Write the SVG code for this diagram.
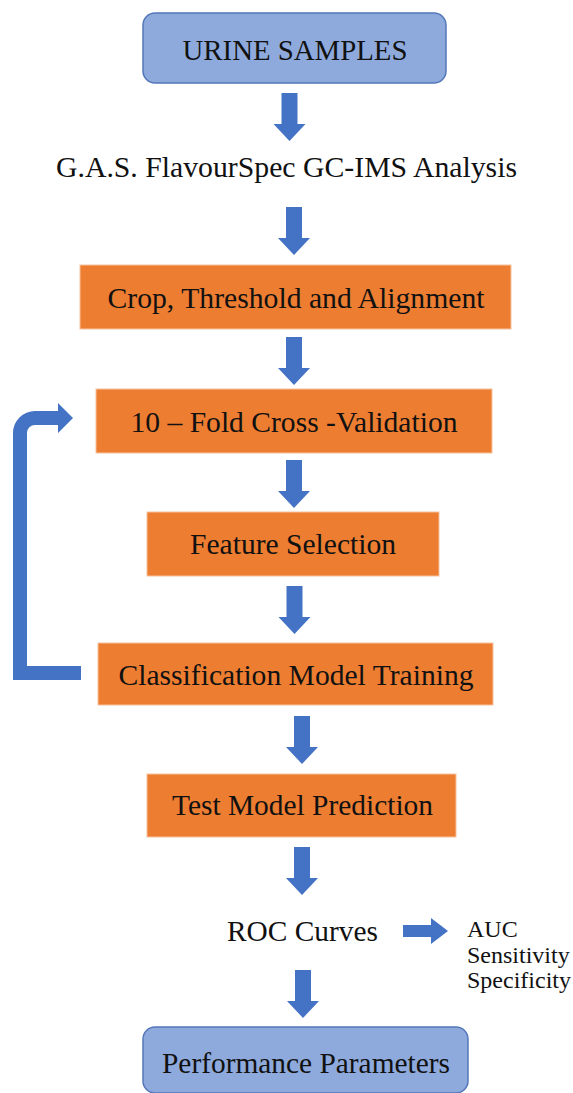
<svg xmlns="http://www.w3.org/2000/svg" xmlns:xlink="http://www.w3.org/1999/xlink" width="573" height="1093" viewBox="0 0 573 1093">
  <style>
    .term { fill: #8eaadc; stroke: #5477b8; stroke-width: 1.5; }
    .step { fill: #ed7d31; stroke: #f6c3a0; stroke-width: 1; }
    text { font-family: 'Liberation Serif', 'DejaVu Serif', 'Times New Roman', serif; fill: #111; }
    .lbl { font-size: 29px; text-anchor: middle; }
    .side { font-size: 24px; }
    .flow { fill: #4472c4; }
  </style>
  <defs>
    <!-- block down-arrow, centred on x=0, top at y=0 -->
    <path id="down" d="M-8,0 H8 V31 H16 L0,48 L-16,31 H-8 Z"/>
  </defs>

  <rect width="573" height="1093" fill="#ffffff"/>

  <g id="connectors" class="flow">
    <use xlink:href="#down" transform="translate(289.5,93)"/>
    <use xlink:href="#down" transform="translate(294,207)"/>
    <use xlink:href="#down" transform="translate(294,337)"/>
    <use xlink:href="#down" transform="translate(294,460)"/>
    <use xlink:href="#down" transform="translate(294.5,586)"/>
    <use xlink:href="#down" transform="translate(302,716)"/>
    <use xlink:href="#down" transform="translate(302,847)"/>
    <use xlink:href="#down" transform="translate(303,970)"/>
    <!-- ROC -> metrics -->
    <path d="M403,925 H431 V918 L448,931 L431,944 V937 H403 Z"/>
    <!-- loop back from training to cross-validation -->
    <path d="M13,680 H81 V666 H27 V433 A8,8 0 0 1 35,425 H58 V433 L73,418 L58,403 V411 H35 A22,22 0 0 0 13,433 Z"/>
  </g>

  <g id="urine-samples">
    <rect class="term" x="143" y="13" width="303" height="70" rx="12"/>
    <text class="lbl" x="295" y="60" textLength="225" lengthAdjust="spacingAndGlyphs">URINE SAMPLES</text>
  </g>

  <g id="gc-ims-analysis">
    <text class="lbl" x="286.5" y="177" textLength="461" lengthAdjust="spacingAndGlyphs">G.A.S. FlavourSpec GC-IMS Analysis</text>
  </g>

  <g id="crop-threshold">
    <rect class="step" x="80" y="265" width="431" height="64"/>
    <text class="lbl" x="296" y="308" textLength="377" lengthAdjust="spacingAndGlyphs">Crop, Threshold and Alignment</text>
  </g>

  <g id="cross-validation">
    <rect class="step" x="96" y="389" width="396" height="64"/>
    <text class="lbl" x="294" y="432" textLength="327" lengthAdjust="spacingAndGlyphs">10 – Fold Cross -Validation</text>
  </g>

  <g id="feature-selection">
    <rect class="step" x="147" y="512" width="292" height="64"/>
    <text class="lbl" x="293" y="554" textLength="206" lengthAdjust="spacingAndGlyphs">Feature Selection</text>
  </g>

  <g id="model-training">
    <rect class="step" x="98" y="643" width="395" height="62"/>
    <text class="lbl" x="296" y="685" textLength="355" lengthAdjust="spacingAndGlyphs">Classification Model Training</text>
  </g>

  <g id="test-prediction">
    <rect class="step" x="147" y="774" width="309" height="63"/>
    <text class="lbl" x="302.5" y="815" textLength="261" lengthAdjust="spacingAndGlyphs">Test Model Prediction</text>
  </g>

  <g id="roc-curves">
    <text class="lbl" x="302.5" y="941" textLength="151" lengthAdjust="spacingAndGlyphs">ROC Curves</text>
  </g>

  <g id="roc-metrics">
    <text class="side" x="467" y="937">AUC</text>
    <text class="side" x="467" y="963">Sensitivity</text>
    <text class="side" x="467" y="988">Specificity</text>
  </g>

  <g id="performance-parameters">
    <rect class="term" x="143" y="1027" width="325" height="66" rx="12"/>
    <text class="lbl" x="306" y="1073" textLength="288" lengthAdjust="spacingAndGlyphs">Performance Parameters</text>
  </g>
</svg>
